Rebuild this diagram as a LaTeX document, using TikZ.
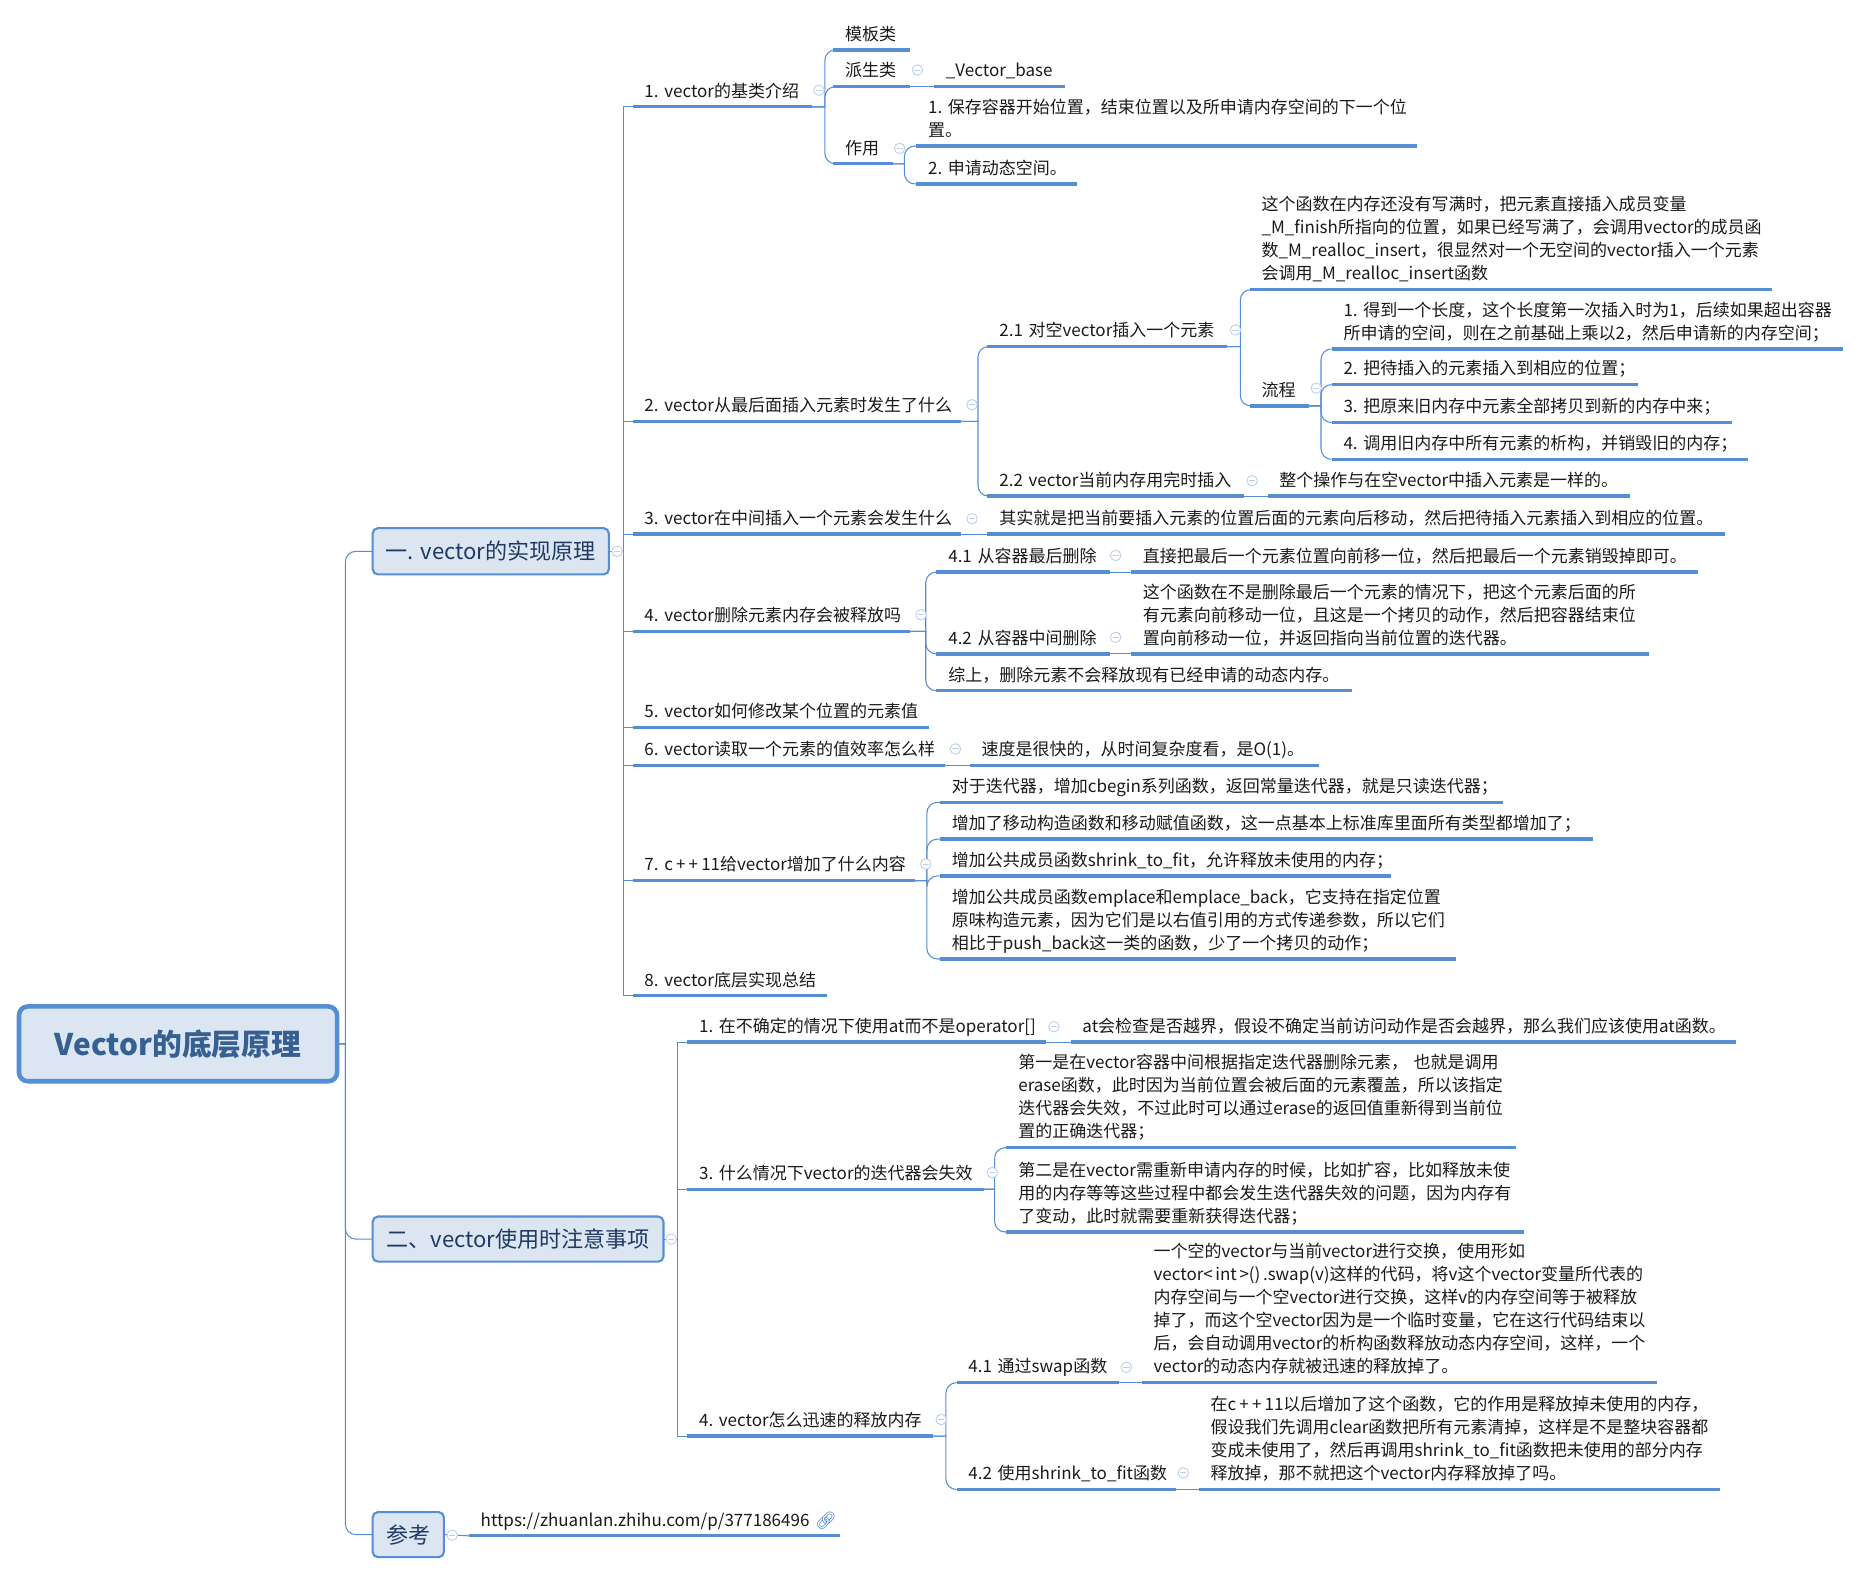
\documentclass[tikz,border=0pt]{standalone}
\usepackage{fontspec}
\setmainfont{Noto Sans CJK SC}[HyphenChar=None]
\newfontfamily\iconfont{Noto Emoji}
\newcommand{\px}{0.0238cm}
\newcommand{\cppeleven}{c\kern1.8pt+\kern1.8pt+\kern1.8pt11}
\definecolor{mapblue}{HTML}{558ED5}
\definecolor{mapfill}{HTML}{DCE6F2}
\definecolor{foldblue}{HTML}{BBCFEE}
\definecolor{inktext}{HTML}{1A1A1A}
\definecolor{boxtext}{HTML}{1F3A63}
\definecolor{roottext}{HTML}{366092}
\definecolor{iconblue}{HTML}{3D7FD9}
\tikzset{
  topic/.style={anchor=south west, inner xsep=10*\px, inner ysep=1.6pt, outer sep=0pt, align=left, text=inktext,
    font=\fontsize{9.7}{13.15}\selectfont, execute at end node=\strut},
  wd/.style={text width={(#1-20)*\px}},
  mainbox/.style={draw=mapblue, fill=mapfill, line width=1.2pt, rounded corners=3pt, outer sep=0pt, inner sep=0pt,
    text=boxtext, font=\fontsize{12.6}{15}\selectfont},
  rootbox/.style={draw=mapblue, fill=mapfill, line width=2.6pt, rounded corners=5pt, outer sep=0pt, inner sep=0pt,
    text=roottext, font=\fontsize{17}{20}\selectfont\bfseries},
  uline/.style={draw=mapblue, line width=1.9pt},
  link/.style={draw=mapblue, line width=0.6pt},
  elbow/.style={to path={-- ++(#1,0) {[rounded corners=6pt] |- (\tikztotarget)}}},
  fold/.style={circle, draw=foldblue, line width=0.5pt, fill=white, inner sep=0pt, minimum size=6pt,
    path picture={\draw[foldblue, line width=0.5pt] ([xshift=-1.8pt]path picture bounding box.center) -- ([xshift=1.8pt]path picture bounding box.center);}},
}
\begin{document}
\begin{tikzpicture}[x=\px,y=-\px]
  \useasboundingbox (0,0) rectangle (1568,1328);

  \node[rootbox, minimum width=268*\px, minimum height=63*\px] (root) at (150,879.5) {Vector的底层原理};
  \node[mainbox, minimum width=199*\px, minimum height=39*\px] (partA) at (413.5,464.5) {一. vector的实现原理};
  \node[mainbox, minimum width=245*\px, minimum height=38*\px] (partB) at (436.5,1044) {二、vector使用时注意事项};
  \node[mainbox, minimum width=60*\px, minimum height=38*\px] (partC) at (344,1293) {参考};

  % first part
  \node[topic, wd=151] (v1) at (533,90) {1.~vector的基类介绍};
  \node[topic, wd=65] (tmpl) at (702,42) {模板类};
  \node[topic, wd=65] (derived) at (702,73) {派生类};
  \node[topic, wd=110] (vbase) at (787,73) {\_Vector\_base};
  \node[topic, wd=50] (role) at (702,138) {作用};
  \node[topic, wd=422] (role1) at (772,123) {1.~保存容器开始位置，结束位置以及所申请内存空间的下一个位\\置。};
  \node[topic, wd=135] (role2) at (772,155) {2.~申请动态空间。};

  \node[topic, wd=277] (v2) at (533,355) {2.~vector从最后面插入元素时发生了什么};
  \node[topic, wd=202] (v21) at (832,292) {2.1~对空vector插入一个元素};
  \node[topic, wd=440] (v21a) at (1053,244) {这个函数在内存还没有写满时，把元素直接插入成员变量\\\_M\_finish所指向的位置，如果已经写满了，会调用vector的成员函\\数\_M\_realloc\_insert，很显然对一个无空间的vector插入一个元素\\会调用\_M\_realloc\_insert函数};
  \node[topic, wd=50] (flow) at (1053,342) {流程};
  \node[topic, wd=431] (flow1) at (1122,294) {1.~得到一个长度，这个长度第一次插入时为1，后续如果超出容器\\所申请的空间，则在之前基础上乘以2，然后申请新的内存空间；};
  \node[topic, wd=258] (flow2) at (1122,324) {2.~把待插入的元素插入到相应的位置；};
  \node[topic, wd=337] (flow3) at (1122,356) {3.~把原来旧内存中元素全部拷贝到新的内存中来；};
  \node[topic, wd=351] (flow4) at (1122,387) {4.~调用旧内存中所有元素的析构，并销毁旧的内存；};
  \node[topic, wd=216] (v22) at (832,418) {2.2~vector当前内存用完时插入};
  \node[topic, wd=305] (v22a) at (1068,418) {整个操作与在空vector中插入元素是一样的。};

  \node[topic, wd=277] (v3) at (533,450) {3.~vector在中间插入一个元素会发生什么};
  \node[topic, wd=621] (v3a) at (832,450) {其实就是把当前要插入元素的位置后面的元素向后移动，然后把待插入元素插入到相应的位置。};

  \node[topic, wd=234] (v4) at (533,532) {4.~vector删除元素内存会被释放吗};
  \node[topic, wd=146] (v41) at (789,482) {4.1~从容器最后删除};
  \node[topic, wd=478] (v41a) at (953,482) {直接把最后一个元素位置向前移一位，然后把最后一个元素销毁掉即可。};
  \node[topic, wd=146] (v42) at (789,551) {4.2~从容器中间删除};
  \node[topic, wd=436] (v42a) at (953,551) {这个函数在不是删除最后一个元素的情况下，把这个元素后面的所\\有元素向前移动一位，且这是一个拷贝的动作，然后把容器结束位\\置向前移动一位，并返回指向当前位置的迭代器。};
  \node[topic, wd=350] (v43) at (789,582) {综上，删除元素不会释放现有已经申请的动态内存。};

  \node[topic, wd=250] (v5) at (533,613) {5.~vector如何修改某个位置的元素值};
  \node[topic, wd=263] (v6) at (533,645) {6.~vector读取一个元素的值效率怎么样};
  \node[topic, wd=294] (v6a) at (817,645) {速度是很快的，从时间复杂度看，是O(1)。};

  \node[topic, wd=238] (v7) at (533,742) {7.~\cppeleven 给vector增加了什么内容};
  \node[topic, wd=474] (v71) at (792,676) {对于迭代器，增加cbegin系列函数，返回常量迭代器，就是只读迭代器；};
  \node[topic, wd=550] (v72) at (792,707) {增加了移动构造函数和移动赋值函数，这一点基本上标准库里面所有类型都增加了；};
  \node[topic, wd=380] (v73) at (792,738) {增加公共成员函数shrink\_to\_fit，允许释放未使用的内存；};
  \node[topic, wd=435] (v74) at (792,808) {增加公共成员函数emplace和emplace\_back，它支持在指定位置\\原味构造元素，因为它们是以右值引用的方式传递参数，所以它们\\相比于push\_back这一类的函数，少了一个拷贝的动作；};
  \node[topic, wd=164] (v8) at (533,839) {8.~vector底层实现总结};

  % second part
  \node[topic, wd=302] (w1) at (579,878) {1.~在不确定的情况下使用at而不是operator[]};
  \node[topic, wd=561] (w1a) at (902,878) {at会检查是否越界，假设不确定当前访问动作是否会越界，那么我们应该使用at函数。};
  \node[topic, wd=250] (w3) at (579,1002) {3.~什么情况下vector的迭代器会失效};
  \node[topic, wd=429] (w31) at (848,967) {第一是在vector容器中间根据指定迭代器删除元素，~也就是调用\\erase函数，此时因为当前位置会被后面的元素覆盖，所以该指定\\迭代器会失效，不过此时可以通过erase的返回值重新得到当前位\\置的正确迭代器；};
  \node[topic, wd=436] (w32) at (848,1038) {第二是在vector需重新申请内存的时候，比如扩容，比如释放未使\\用的内存等等这些过程中都会发生迭代器失效的问题，因为内存有\\了变动，此时就需要重新获得迭代器；};
  \node[topic, wd=207] (w4) at (579,1210) {4.~vector怎么迅速的释放内存};
  \node[topic, wd=137] (w41) at (806,1165) {4.1~通过swap函数};
  \node[topic, wd=434] (w41a) at (962,1165) {一个空的vector与当前vector进行交换，使用形如\\vector<\kern1.5pt int\kern1.5pt>()\kern1.5pt.swap(v)这样的代码，将v这个vector变量所代表的\\内存空间与一个空vector进行交换，这样v的内存空间等于被释放\\掉了，而这个空vector因为是一个临时变量，它在这行代码结束以\\后，会自动调用vector的析构函数释放动态内存空间，这样，一个\\vector的动态内存就被迅速的释放掉了。};
  \node[topic, wd=185] (w42) at (806,1255) {4.2~使用shrink\_to\_fit函数};
  \node[topic, wd=439] (w42a) at (1010,1255) {在\cppeleven 以后增加了这个函数，它的作用是释放掉未使用的内存，\\假设我们先调用clear函数把所有元素清掉，这样是不是整块容器都\\变成未使用了，然后再调用shrink\_to\_fit函数把未使用的部分内存\\释放掉，那不就把这个vector内存释放掉了吗。};

  % third part
  \node[topic, wd=313] (ref) at (395,1294) {https://zhuanlan.zhihu.com/p/377186496~{\iconfont\color{iconblue}\symbol{"1F517}}};

  \foreach \n in {v1,tmpl,derived,vbase,role,role1,role2,v2,v21,v21a,flow,flow1,flow2,flow3,flow4,v22,v22a,v3,v3a,v4,v41,v41a,v42,v42a,v43,v5,v6,v6a,v7,v71,v72,v73,v74,v8,w1,w1a,w3,w31,w32,w4,w41,w41a,w42,w42a,ref}
    \draw[uline] (\n.south west) -- (\n.south east);

  \coordinate (spineA) at (525,464.5);
  \coordinate (spineB) at (571,1044);

  \draw[link] (root.east) to[elbow=7] (partA.west);
  \draw[link] (root.east) to[elbow=7] (partB.west);
  \draw[link] (root.east) to[elbow=7] (partC.west);

  \foreach \n in {v1,v2,v3,v4,v5,v6,v7,v8}
    \draw[link] (partA.east) -- (spineA) |- (\n.south west);
  \foreach \n in {w1,w3,w4}
    \draw[link] (partB.east) -- (spineB) |- (\n.south west);

  \foreach \n in {tmpl,derived,role}
    \draw[link] (v1.south east) to[elbow=11] (\n.south west);
  \draw[link] (derived.south east) -- (vbase.south west);
  \foreach \n in {role1,role2}
    \draw[link] (role.south east) to[elbow=10] (\n.south west);
  \foreach \n in {v21,v22}
    \draw[link] (v2.south east) to[elbow=14] (\n.south west);
  \foreach \n in {v21a,flow}
    \draw[link] (v21.south east) to[elbow=11] (\n.south west);
  \foreach \n in {flow1,flow2,flow3,flow4}
    \draw[link] (flow.south east) to[elbow=10] (\n.south west);
  \draw[link] (v22.south east) -- (v22a.south west);
  \draw[link] (v3.south east) -- (v3a.south west);
  \foreach \n in {v41,v42,v43}
    \draw[link] (v4.south east) to[elbow=13] (\n.south west);
  \draw[link] (v41.south east) -- (v41a.south west);
  \draw[link] (v42.south east) -- (v42a.south west);
  \draw[link] (v6.south east) -- (v6a.south west);
  \foreach \n in {v71,v72,v73,v74}
    \draw[link] (v7.south east) to[elbow=10] (\n.south west);
  \draw[link] (w1.south east) -- (w1a.south west);
  \foreach \n in {w31,w32}
    \draw[link] (w3.south east) to[elbow=9] (\n.south west);
  \foreach \n in {w41,w42}
    \draw[link] (w4.south east) to[elbow=11] (\n.south west);
  \draw[link] (w41.south east) -- (w41a.south west);
  \draw[link] (w42.south east) -- (w42a.south west);
  \draw[link] (partC.east) -- (ref.south west);

  \node[fold] (foldA) at (520,464.5) {};
  \node[fold] (foldB) at (565.5,1044) {};
  \node[fold] (foldC) at (381,1293.5) {};
  \node[fold] (foldv1) at (690,76) {};
  \node[fold] (foldder) at (773,59) {};
  \node[fold] (foldrole) at (758,125) {};
  \node[fold] (foldv2) at (819,341) {};
  \node[fold] (foldv21) at (1041,278) {};
  \node[fold] (foldflow) at (1109,327) {};
  \node[fold] (foldv22) at (1055,405) {};
  \node[fold] (foldv3) at (819,437) {};
  \node[fold] (foldv4) at (776,518) {};
  \node[fold] (foldv41) at (940,468) {};
  \node[fold] (foldv42) at (940,537) {};
  \node[fold] (foldv6) at (805,631) {};
  \node[fold] (foldv7) at (780,728) {};
  \node[fold] (foldw1) at (888,865) {};
  \node[fold] (foldw3) at (836,988) {};
  \node[fold] (foldw4) at (793,1196) {};
  \node[fold] (foldw41) at (949,1152) {};
  \node[fold] (foldw42) at (997,1241) {};
\end{tikzpicture}
\end{document}
